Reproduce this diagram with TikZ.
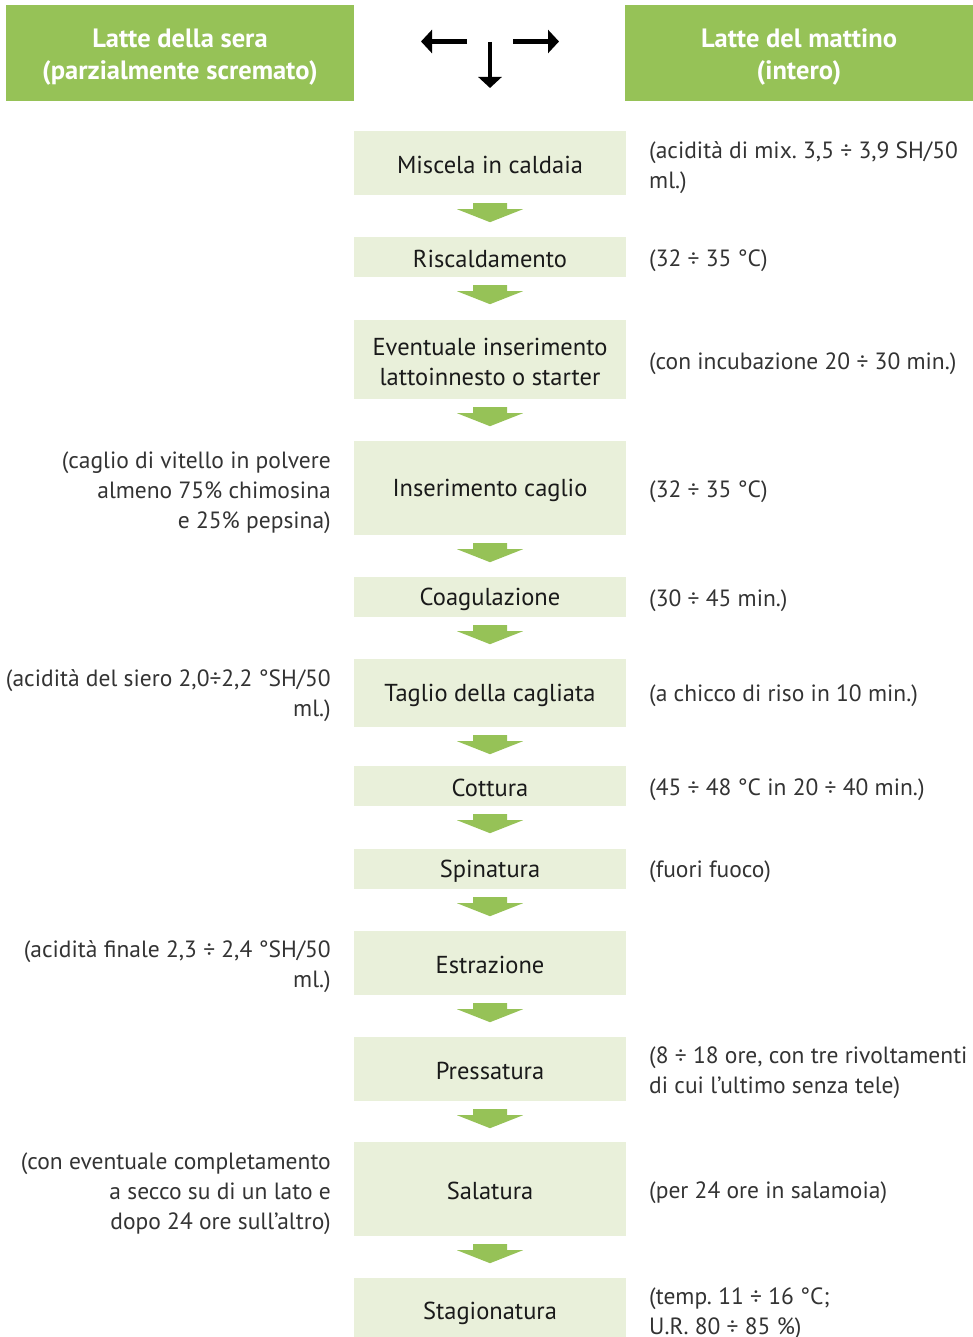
\documentclass[tikz,border=0pt]{standalone}
\usepackage{fontspec}
\setmainfont{PT Sans}
\frenchspacing
\usetikzlibrary{arrows.meta,calc}
\definecolor{hdrgreen}{HTML}{96C257}
\definecolor{boxgreen}{HTML}{E9F0DA}
\definecolor{sidegray}{HTML}{333333}
\definecolor{boxtext}{HTML}{1A1A1A}
\newcommand\dnh[1]{\raisebox{-4pt}[\height][\depth]{#1}}
\newcommand\dnb[1]{\raisebox{-2pt}[\height][\depth]{#1}}
\tikzset{
  hdr/.style={fill=hdrgreen, text=white, font=\fontsize{26.5}{32}\selectfont\bfseries, align=center, minimum width=348pt, minimum height=96pt, inner sep=0pt},
  stepbox/.style={fill=boxgreen, text=boxtext, font=\fontsize{24.5}{30}\selectfont, align=center, minimum width=272pt, inner sep=0pt},
  rnote/.style={anchor=west, text=sidegray, font=\fontsize{23.5}{30}\selectfont, align=left, inner sep=0pt, yshift=-3pt},
  lnote/.style={anchor=east, text=sidegray, font=\fontsize{23.5}{30}\selectfont, align=right, inner sep=0pt, yshift=-3pt},
  blackarrow/.style={line width=4.3pt, -{Triangle[length=11pt,width=23pt]}},
  flowarrow/.style={fill=hdrgreen}
}
\begin{document}
\begin{tikzpicture}[x=1pt,y=-1pt]
\useasboundingbox (0,0) rectangle (972,1337);
% headers
\node[hdr] (hl) at (180,53) {\dnh{Latte della sera}\\\dnh{(parzialmente scremato)}};
\node[hdr] (hr) at (799,53) {\dnh{Latte del mattino}\\\dnh{(intero)}};
% header arrows
\coordinate (al1) at (467,41.5); \coordinate (al2) at (421,41.5);
\coordinate (ar1) at (513,41.5); \coordinate (ar2) at (559,41.5);
\coordinate (ad1) at (490,42);   \coordinate (ad2) at (490,88);
\draw[blackarrow] (al1) -- (al2);
\draw[blackarrow] (ar1) -- (ar2);
\draw[blackarrow] (ad1) -- (ad2);
% steps
\node[stepbox, minimum height=64pt] (b1) at (490,163) {\dnb{Miscela in caldaia}};
\node[stepbox, minimum height=40pt] (b2) at (490,257) {\dnb{Riscaldamento}};
\node[stepbox, minimum height=79pt] (b3) at (490,359.5) {\dnb{Eventuale inserimento}\\\dnb{lattoinnesto o starter}};
\node[stepbox, minimum height=94pt] (b4) at (490,488) {\dnb{Inserimento caglio}};
\node[stepbox, minimum height=40pt] (b5) at (490,597) {\dnb{Coagulazione}};
\node[stepbox, minimum height=68pt] (b6) at (490,693) {\dnb{Taglio della cagliata}};
\node[stepbox, minimum height=40pt] (b7) at (490,786) {\dnb{Cottura}};
\node[stepbox, minimum height=40pt] (b8) at (490,869) {\dnb{Spinatura}};
\node[stepbox, minimum height=64pt] (b9) at (490,963) {\dnb{Estrazione}};
\node[stepbox, minimum height=64pt] (b10) at (490,1069) {\dnb{Pressatura}};
\node[stepbox, minimum height=94pt] (b11) at (490,1189) {\dnb{Salatura}};
\node[stepbox, minimum height=66pt] (b12) at (490,1311) {\dnb{Stagionatura}};
% flow arrows
\foreach \a in {b1,b2,b3,b4,b5,b6,b7,b8,b9,b10,b11}{
  \path (\a.south) ++(0,8) coordinate (t\a);
  \fill[flowarrow] (t\a) ++(-17,0) -- ++(34,0) -- ++(0,6) -- ++(16,0) -- ++(-33,13) -- ++(-33,-13) -- ++(16,0) -- cycle;
}
% right notes
\node[rnote] (r1) at (649,165) {(acidità di mix. 3,5 ÷ 3,9 SH/50\\ml.)};
\node[rnote] (r2) at (649,258) {(32 ÷ 35 °C)};
\node[rnote] (r3) at (649,361) {(con incubazione 20 ÷ 30 min.)};
\node[rnote] (r4) at (649,489) {(32 ÷ 35 °C)};
\node[rnote] (r5) at (649,598) {(30 ÷ 45 min.)};
\node[rnote] (r6) at (649,693) {(a chicco di riso in 10 min.)};
\node[rnote] (r7) at (649,787) {(45 ÷ 48 °C in 20 ÷ 40 min.)};
\node[rnote] (r8) at (649,869) {(fuori fuoco)};
\node[rnote] (r10) at (649,1069.5) {(8 ÷ 18 ore, con tre rivoltamenti\\di cui l’ultimo senza tele)};
\node[rnote] (r11) at (649,1190) {(per 24 ore in salamoia)};
\node[rnote] (r12) at (649,1311) {(temp. 11 ÷ 16 °C;\\U.R. 80 ÷ 85 \%)};
% left notes
\node[lnote] (l4) at (331,489.5) {(caglio di vitello in polvere\\almeno 75\% chimosina\\e 25\% pepsina)};
\node[lnote] (l6) at (331,693) {(acidità del siero 2,0÷2,2 °SH/50\\ml.)};
\node[lnote] (l9) at (331,964) {(acidità finale 2,3 ÷ 2,4 °SH/50\\ml.)};
\node[lnote] (l11) at (331,1191) {(con eventuale completamento\\a secco su di un lato e\\dopo 24 ore sull’altro)};
\end{tikzpicture}
\end{document}
